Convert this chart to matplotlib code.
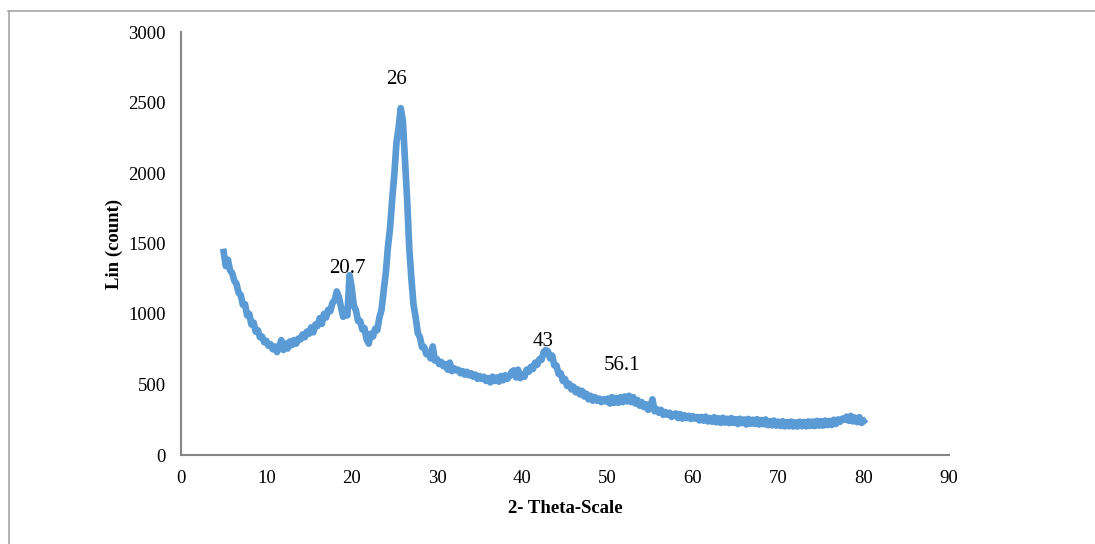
import numpy as np
import matplotlib.pyplot as plt
from matplotlib.lines import Line2D

# 2-theta from 5 to 80 in 0.25 steps
two_theta = np.arange(0, 301) * 0.25 + 5
counts = [
    1440, 1340, 1385, 1310,   # 5
    1290, 1235, 1215, 1150,   # 6
    1135, 1065, 1070, 990,    # 7
    1000, 925, 940, 875,      # 8
    885, 835, 840, 800,       # 9
    810, 775, 785, 750,       # 10
    770, 730, 765, 815,       # 11
    745, 790, 755, 805,       # 12
    780, 815, 790, 825,       # 13
    820, 855, 835, 875,       # 14
    860, 905, 870, 925,       # 15
    915, 970, 930, 1000,      # 16
    975, 1030, 1020, 1080,    # 17
    1095, 1160, 1120, 1050,   # 18
    980, 995, 990, 1275,      # 19
    1190, 1060, 1025, 950,    # 20
    950, 890, 900, 820,       # 21
    790, 860, 840, 895,       # 22
    885, 975, 1030, 1165,     # 23
    1290, 1475, 1610, 1815,   # 24
    1990, 2215, 2320, 2460,   # 25
    2370, 2090, 1810, 1470,   # 26
    1250, 1065, 975, 865,     # 27
    835, 765, 765, 715,       # 28
    725, 685, 770, 670,       # 29
    680, 645, 660, 630,       # 30
    645, 605, 655, 595,       # 31
    615, 600, 605, 580,       # 32
    595, 570, 590, 565,       # 33
    580, 555, 570, 540,       # 34
    560, 540, 555, 525,       # 35
    545, 515, 555, 525,       # 36
    550, 520, 560, 530,       # 37
    565, 540, 560, 590,       # 38
    600, 550, 605, 545,       # 39
    570, 555, 605, 590,       # 40
    625, 610, 655, 640,       # 41
    680, 675, 730, 745,       # 42
    735, 685, 705, 635,       # 43
    635, 575, 580, 525,       # 44
    540, 490, 505, 465,       # 45
    485, 445, 465, 430,       # 46
    455, 415, 435, 395,       # 47
    420, 385, 410, 385,       # 48
    400, 375, 395, 380,       # 49
    400, 365, 410, 370,       # 50
    405, 370, 410, 375,       # 51
    415, 380, 420, 375,       # 52
    410, 365, 390, 350,       # 53
    375, 340, 360, 320,       # 54
    345, 395, 310, 325,       # 55
    300, 320, 285, 305,       # 56
    285, 300, 270, 290,       # 57
    295, 262, 290, 258,       # 58
    282, 262, 278, 255,       # 59
    275, 258, 270, 245,       # 60
    270, 243, 272, 238,       # 61
    262, 236, 268, 232,       # 62
    260, 228, 264, 230,       # 63
    257, 226, 262, 228,       # 64
    254, 220, 257, 226,       # 65
    252, 216, 256, 222,       # 66
    250, 220, 254, 216,       # 67
    248, 218, 252, 212,       # 68
    240, 210, 244, 208,       # 69
    236, 206, 240, 203,       # 70
    234, 204, 237, 202,       # 71
    232, 202, 236, 204,       # 72
    234, 203, 238, 206,       # 73
    237, 205, 242, 208,       # 74
    240, 208, 244, 212,       # 75
    242, 213, 250, 220,       # 76
    252, 236, 258, 250,       # 77
    272, 243, 277, 238,       # 78
    265, 233, 268, 228,       # 79
    240,                      # 80
]

peak_labels = ["20.7", "26", "43", "56.1"]
label_x = [19.45, 25.2, 42.4, 51.7]
label_y = [1326, 2666, 808, 638]

plt.rcParams["font.family"] = ["Liberation Serif", "DejaVu Serif"]

fig = plt.figure(figsize=(10.95, 5.44), dpi=100)
ax = fig.add_axes([181/1095, 1 - 455/544, (949 - 181)/1095, (455 - 32)/544])

ax.plot(two_theta, counts, color="#5B9BD5", lw=4.8, solid_joinstyle="round")

for t, lx, ly in zip(peak_labels, label_x, label_y):
    ax.text(lx, ly, t, ha="center", va="center", fontsize=15)

ax.set_xlim(0, 90)
ax.set_ylim(0, 3000)
ax.set_xticks(range(0, 91, 10))
ax.set_yticks(range(0, 3001, 500))
ax.tick_params(length=0, labelsize=13.5)
ax.tick_params(axis="y", pad=11)
ax.tick_params(axis="x", pad=11)
for s in ["top", "right"]:
    ax.spines[s].set_visible(False)
for s in ["left", "bottom"]:
    ax.spines[s].set_color("#868686")
    ax.spines[s].set_linewidth(1.5)

ax.set_xlabel("2- Theta-Scale", fontsize=13.5, fontweight="bold", labelpad=9)
ax.set_ylabel("Lin (count)", fontsize=13.5, fontweight="bold", labelpad=4)

# outer frame (top and left edges visible)
fig.add_artist(Line2D([8/1095, 1], [1 - 11/544, 1 - 11/544], transform=fig.transFigure, color="#A6A6A6", lw=1.2))
fig.add_artist(Line2D([8.5/1095, 8.5/1095], [0, 1 - 11/544], transform=fig.transFigure, color="#A6A6A6", lw=1.2))

fig.savefig("out.png", dpi=100)
plt.close(fig)
